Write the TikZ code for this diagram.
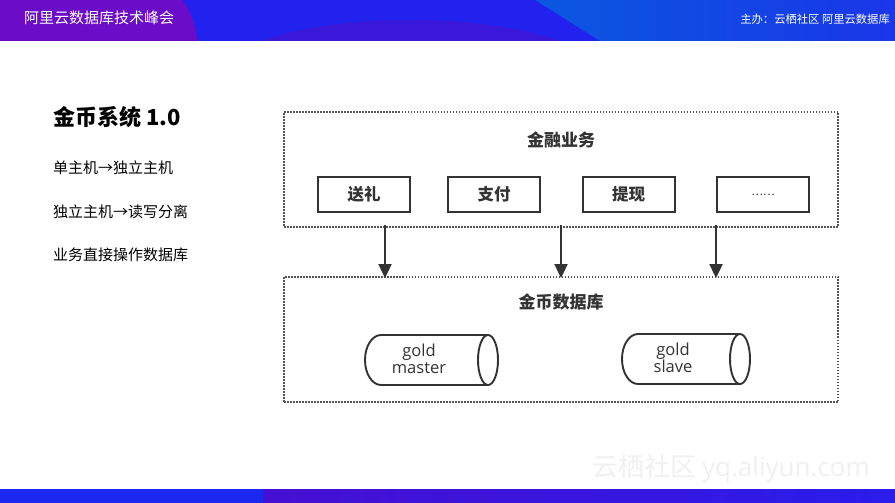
\documentclass[tikz,border=0pt]{standalone}
\usepackage{fontspec}
\setmainfont{Noto Sans CJK SC}
\newfontfamily\latinf{Open Sans}
\usetikzlibrary{arrows.meta}
\definecolor{hdrblue}{HTML}{2222EE}
\definecolor{hdrpurple}{HTML}{6A0CC8}
\definecolor{hdrmid}{HTML}{3A18DA}
\definecolor{hdrlightA}{HTML}{0A58E0}
\definecolor{hdrlightB}{HTML}{1A36E8}
\definecolor{ftblue}{HTML}{1A28F0}
\definecolor{ftpurpleA}{HTML}{4610D2}
\definecolor{ftpurpleB}{HTML}{2A1CEA}
\definecolor{ink}{HTML}{333333}
\definecolor{dotc}{HTML}{555555}
\tikzset{
  dotbox/.style={draw=dotc, line width=1.6pt, dash pattern=on 1.5pt off 1.5pt, inner sep=0pt},
  stepbox/.style={draw=ink, line width=2pt, minimum width=92pt, minimum height=35pt, inner sep=0pt, font=\fontsize{16.5}{17}\selectfont\bfseries, text=ink},
  boxtitle/.style={font=\fontsize{17}{17}\selectfont\bfseries, text=ink},
  arr/.style={draw=ink, line width=2.4pt, -{Triangle[length=14pt,width=13pt]}},
  cyl/.style={draw=ink, line width=1.9pt},
  cyltext/.style={font=\latinf\fontsize{16.5}{17}\selectfont, text=ink, align=center, inner sep=0pt},
  lefttext/.style={anchor=west, inner sep=0pt, font=\fontsize{15}{16}\selectfont, text=black},
}
\begin{document}
\begin{tikzpicture}[x=1pt,y=-1pt]
\useasboundingbox (0,0) rectangle (895,503);
\fill[white] (0,0) rectangle (895,503);
% header bar
\fill[hdrblue] (0,0) rectangle (895,41);
\begin{scope}
\clip (0,0) rectangle (895,41);
\fill[hdrmid] (410,75) ellipse [x radius=190, y radius=55];
\shade[left color=hdrlightA, right color=hdrlightB] (535,0) -- (895,0) -- (895,41) -- (600,41) -- cycle;
\fill[hdrpurple] (0,0) -- (182,0) .. controls (192,14) and (196,28) .. (197,41) -- (0,41) -- cycle;
\end{scope}
\node[anchor=west, inner sep=0pt, text=white, font=\fontsize{15}{15}\selectfont] (htitle) at (24,18) {阿里云数据库技术峰会};
\node[anchor=east, inner sep=0pt, text=white, font=\fontsize{11.3}{12}\selectfont] (hsponsor) at (890,19) {主办：云栖社区 阿里云数据库};
% footer bar
\fill[ftblue] (0,489) rectangle (895,503);
\shade[left color=ftpurpleA, right color=ftpurpleB] (263,489) rectangle (895,503);
% watermark
\node[anchor=west, inner sep=0pt, text=black!6, font=\fontsize{26}{26}\selectfont] (wm) at (592,469) {云栖社区 {\latinf yq.aliyun.com}};
% left text
\node[anchor=west, inner sep=0pt, font=\fontsize{22}{22}\selectfont\bfseries] (ttl) at (53,117) {金币系统 1.0};
\node[lefttext] (l1) at (53,168) {单主机→独立主机};
\node[lefttext] (l2) at (53,212) {独立主机→读写分离};
\node[lefttext] (l3) at (53,255) {业务直接操作数据库};
% upper box
\node[dotbox, minimum width=554pt, minimum height=115pt] (up) at (561,169.5) {};
\node[boxtitle] (upt) at (561,140) {金融业务};
\node[stepbox] (b1) at (364,194.5) {送礼};
\node[stepbox] (b2) at (494,194.5) {支付};
\node[stepbox] (b3) at (628.5,194.5) {提现};
\node[stepbox, font=\fontsize{11}{11}\selectfont] (b4) at (763,194.5) {……};
% lower box
\node[dotbox, minimum width=554pt, minimum height=125pt] (dn) at (561,339.5) {};
\node[boxtitle] (dnt) at (561,302) {金币数据库};
% arrows
\coordinate (s1) at (385,225); \coordinate (e1) at (385,278);
\coordinate (s2) at (561,225); \coordinate (e2) at (561,278);
\coordinate (s3) at (716,225); \coordinate (e3) at (716,278);
\draw[arr] (s1) -- (e1);
\draw[arr] (s2) -- (e2);
\draw[arr] (s3) -- (e3);
% cylinders
\draw[cyl] (488,335) -- (381,335) arc[start angle=270, end angle=90, x radius=16, y radius=25] -- (488,385);
\draw[cyl] (488,360) ellipse [x radius=10, y radius=25];
\node[cyltext] (gm) at (419,359) {gold\\master};
\draw[cyl] (740,334) -- (638,334) arc[start angle=270, end angle=90, x radius=16, y radius=25] -- (740,384);
\draw[cyl] (740,359) ellipse [x radius=10, y radius=25];
\node[cyltext] (gs) at (673,358) {gold\\slave};
\end{tikzpicture}
\end{document}
